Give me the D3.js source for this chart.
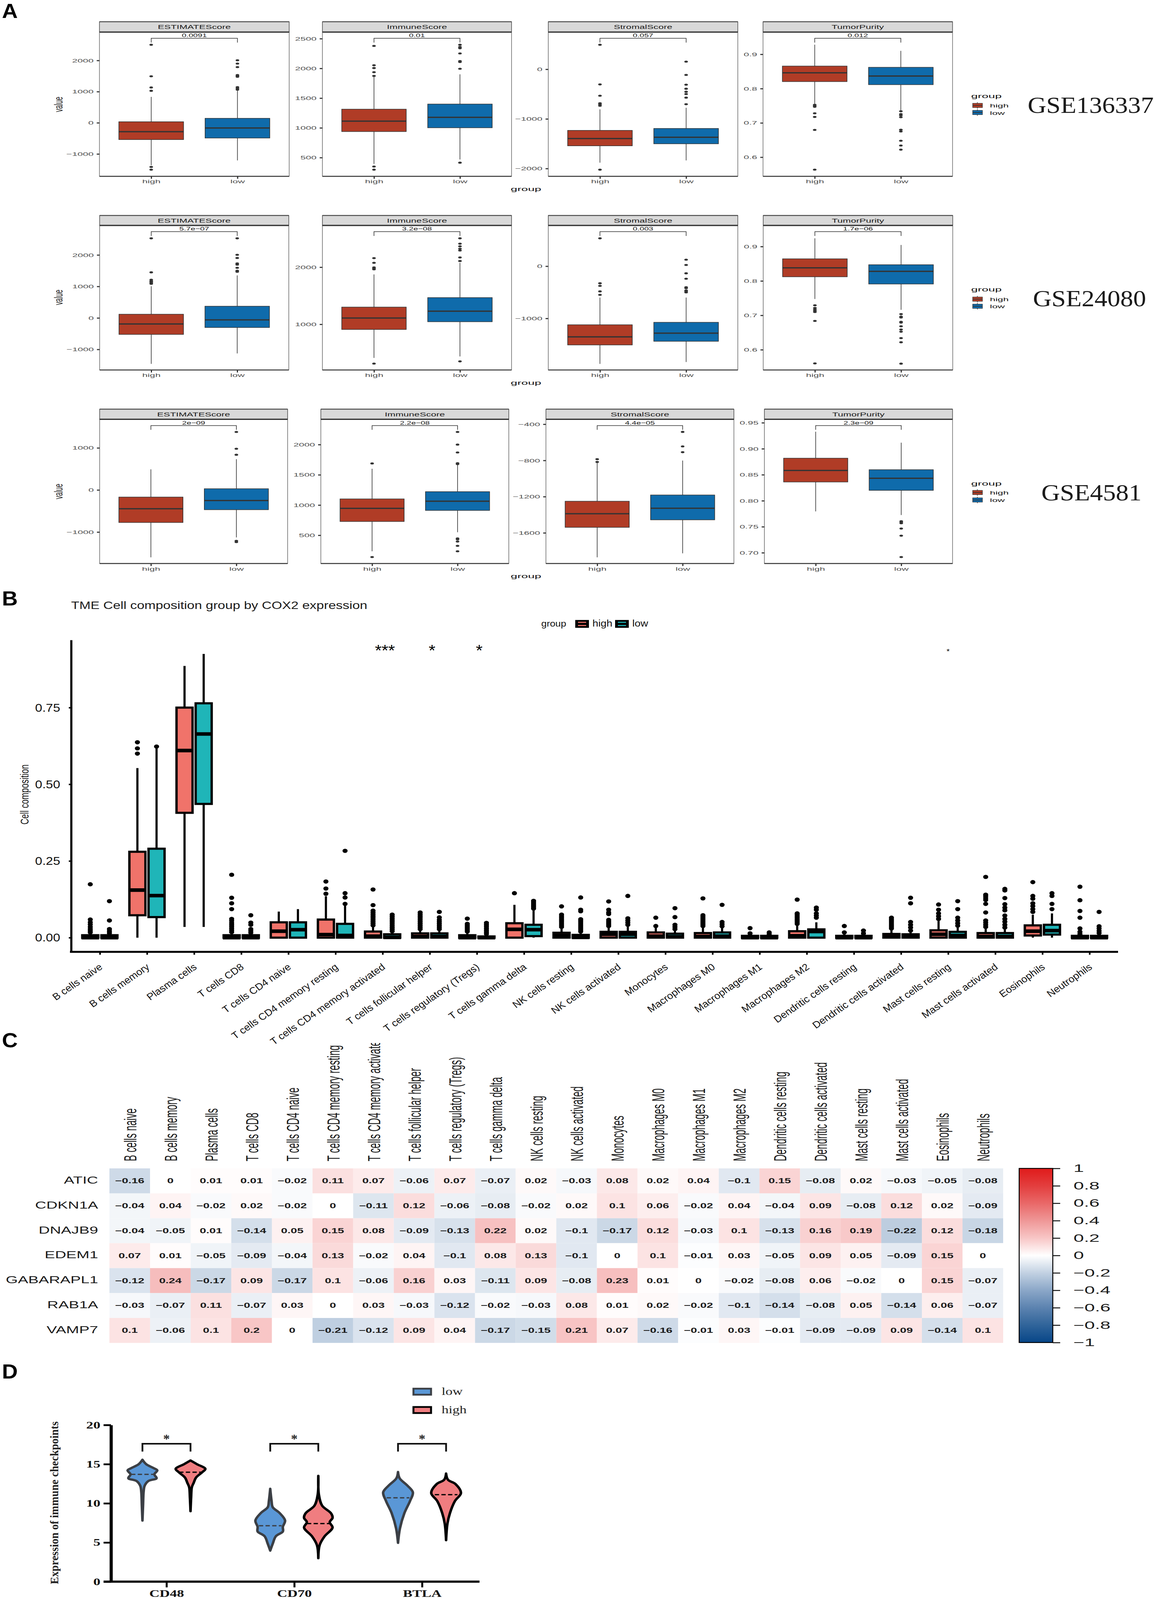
<!DOCTYPE html>
<html>
<head>
<meta charset="utf-8">
<title>COX2 immune figure</title>
<script src="https://cdn.jsdelivr.net/npm/d3@7"></script>
<style>
    html, body { margin: 0; padding: 0; background: #fff; overflow: hidden; }
    svg { display: block; width: 100vw; height: 100vh; font-family: "Liberation Sans", Arial, sans-serif; }
</style>
</head>
<body>
<!-- the browser height is capped at 4096, so the 2953x4493 drawing is fitted to the window -->
<svg id="figure" viewBox="0 0 2953 4493" preserveAspectRatio="none" xmlns="http://www.w3.org/2000/svg"></svg>
<script>
// ---------- Panel A: ESTIMATE boxplots ----------
const groups = ['high', 'low'];
const facets = ['ESTIMATEScore', 'ImmuneScore', 'StromalScore', 'TumorPurity'];
const datasets = ['GSE136337', 'GSE24080', 'GSE4581'];
const pLabels = [
    ['0.0091', '0.01', '0.057', '0.012'],
    ['5.7e\u221207', '3.2e\u221208', '0.003', '1.7e\u221206'],
    ['2e\u221209', '2.2e\u221208', '4.4e\u221205', '2.3e\u221209']
];
const yLimits = [
    [[-1716, 2911], [186, 2611], [-2156, 750], [0.5444, 0.9648]],
    [[-1654, 2938], [200, 2731], [-1988, 781], [0.5411, 0.9614]],
    [[-1749, 1679], [32, 2418], [-1939, -346], [0.6792, 0.9566]]
];
const yTickValues = [
    [[-1000, 0, 1000, 2000], [500, 1000, 1500, 2000, 2500], [-2000, -1000, 0], [0.6, 0.7, 0.8, 0.9]],
    [[-1000, 0, 1000, 2000], [1000, 2000], [-1000, 0], [0.6, 0.7, 0.8, 0.9]],
    [[-1000, 0, 1000], [500, 1000, 1500, 2000], [-1600, -1200, -800, -400], [0.70, 0.75, 0.80, 0.85, 0.90, 0.95]]
];

// every box: [q1, median, q3, whisker low, whisker high, outliers]; per facet [high, low]
const boxesGSE136337 = [
    [[-538, -285, 33, -1362, 832, [2503, 1492, 1133, 1027, -1415, -1504]],
     [-489, -167, 143, -1207, 1084, [2006, 1900, 1786, 1533, 1504, 1476, 1145, 1105, 1064]]],
    [[938, 1113, 1314, 393, 1867, [2378, 2053, 2006, 1936, 1874, 350, 297]],
     [1002, 1177, 1400, 468, 1900, [2397, 2359, 2338, 2252, 2124, 2107, 1994, 415]]],
    [[-1542, -1396, -1232, -1882, -807, [494, -305, -533, -684, -709, -735, -2023]],
     [-1501, -1370, -1193, -1836, -776, [154, -113, -310, -392, -453, -499, -571, -704]]],
    [[0.8204, 0.846, 0.8656, 0.754, 0.928, [0.7526, 0.75, 0.747, 0.728, 0.7174, 0.6796, 0.5637]],
     [0.8115, 0.8367, 0.862, 0.736, 0.91, [0.734, 0.7256, 0.722, 0.7167, 0.68, 0.675, 0.648, 0.634, 0.622]]]
];
const boxesGSE24080 = [
    [[-523, -191, 117, -1459, 1007, [2528, 1448, 1213, 1174, 1147, 1116, 1085]],
     [-304, -62, 371, -1128, 1350, [2528, 2005, 1904, 1732, 1693, 1592, 1498, 1467]]],
    [[910, 1110, 1301, 411, 1873, [2159, 2077, 1996, 1978, 1963, 312]],
     [1045, 1230, 1467, 437, 2075, [2505, 2411, 2366, 2323, 2292, 2170, 2108, 351]]],
    [[-1508, -1353, -1122, -1871, -600, [534, -327, -376, -482, -548]],
     [-1438, -1282, -1075, -1835, -600, [125, 24, -136, -240, -402, -421, -464, -482, -501]]],
    [[0.8121, 0.8382, 0.8643, 0.7475, 0.9239, [0.7293, 0.7214, 0.7171, 0.7132, 0.7096, 0.6839, 0.5604]],
     [0.7911, 0.8279, 0.8471, 0.7161, 0.9046, [0.7036, 0.6964, 0.6939, 0.6811, 0.6789, 0.6682, 0.6589, 0.6525, 0.6339, 0.6218, 0.5596]]]
];
const boxesGSE4581 = [
    [[-773, -446, -169, -1601, 490, []],
     [-469, -251, 29, -1128, 732, [1379, 980, 837, -1210, -1239]]],
    [[728, 945, 1101, 235, 1600, [1688, 140]],
     [911, 1063, 1221, 550, 1671, [2209, 2000, 1870, 1692, 1677, 448, 432, 396, 325, 235]]],
    [[-1539, -1389, -1251, -1870, -824, [-786, -817]],
     [-1456, -1328, -1182, -1826, -801, [-485, -645, -709]]],
    [[0.8361, 0.8583, 0.8818, 0.7795, 0.9328, []],
     [0.82, 0.8432, 0.8597, 0.7724, 0.9116, [0.7606, 0.7587, 0.7568, 0.7465, 0.7328, 0.6917]]]
];

// ---------- Panel B: TME cell composition ----------
const cellTypes = ['B cells naive', 'B cells memory', 'Plasma cells', 'T cells CD8', 'T cells CD4 naive',
    'T cells CD4 memory resting', 'T cells CD4 memory activated', 'T cells follicular helper',
    'T cells regulatory (Tregs)', 'T cells gamma delta', 'NK cells resting', 'NK cells activated', 'Monocytes',
    'Macrophages M0', 'Macrophages M1', 'Macrophages M2', 'Dendritic cells resting', 'Dendritic cells activated',
    'Mast cells resting', 'Mast cells activated', 'Eosinophils', 'Neutrophils'];
const compositionTicks = [0, 0.25, 0.5, 0.75];
const sigCells = ['T cells CD4 memory activated', 'T cells follicular helper', 'T cells regulatory (Tregs)', 'Mast cells resting'];
const sigMarks = ['***', '*', '*', '*'];
const compositionHigh = [
    [0, 0, 0.008, 0, 0.015, [0.174, 0.059, 0.05, 0.043, 0.035, 0.028, 0.022, 0.017]],
    [0.073, 0.155, 0.28, 0, 0.553, [0.637, 0.617, 0.6]],
    [0.407, 0.61, 0.75, 0.035, 0.886, []],
    [0, 0, 0.008, 0, 0.015, [0.205, 0.13, 0.112, 0.093, 0.061, 0.055, 0.048, 0.042, 0.036, 0.03, 0.024, 0.018]],
    [0, 0.021, 0.05, 0, 0.085, []],
    [0, 0.01, 0.059, 0, 0.135, [0.183, 0.16, 0.143]],
    [0, 0.005, 0.02, 0, 0.038, [0.157, 0.106, 0.088, 0.082, 0.076, 0.07, 0.064, 0.058, 0.052, 0.046, 0.04]],
    [0, 0.004, 0.014, 0, 0.026, [0.082, 0.076, 0.07, 0.064, 0.058, 0.052, 0.046, 0.04, 0.034, 0.028]],
    [0, 0, 0.008, 0, 0.016, [0.062, 0.045, 0.04, 0.035, 0.03, 0.025, 0.02]],
    [0, 0.027, 0.047, 0, 0.107, [0.145]],
    [0, 0.007, 0.016, 0, 0.03, [0.102, 0.075, 0.07, 0.065, 0.06, 0.055, 0.05, 0.045, 0.04, 0.035]],
    [0, 0.011, 0.019, 0, 0.036, [0.118, 0.091, 0.082, 0.077, 0.058, 0.053, 0.048, 0.043, 0.038]],
    [0, 0.005, 0.017, 0, 0.035, [0.065, 0.038]],
    [0, 0.004, 0.015, 0, 0.034, [0.128, 0.073, 0.068, 0.063, 0.058, 0.053, 0.048, 0.043, 0.038]],
    [0, 0, 0.006, 0, 0.012, [0.031, 0.014]],
    [0, 0.006, 0.021, 0, 0.04, [0.124, 0.079, 0.075, 0.07, 0.065, 0.06, 0.055, 0.05, 0.045]],
    [0, 0, 0.006, 0, 0.012, [0.038, 0.017]],
    [0, 0.003, 0.012, 0, 0.026, [0.065, 0.06, 0.055, 0.05, 0.045, 0.04, 0.035, 0.03]],
    [0, 0.011, 0.024, 0, 0.055, [0.108, 0.091, 0.079, 0.07, 0.061]],
    [0, 0.004, 0.015, 0, 0.03, [0.198, 0.14, 0.135, 0.129, 0.123, 0.11, 0.082, 0.056, 0.049, 0.042, 0.035]],
    [0.007, 0.021, 0.04, 0, 0.075, [0.181, 0.136, 0.127, 0.112, 0.103, 0.093, 0.084]],
    [0, 0, 0.006, 0, 0.012, [0.166, 0.122, 0.087, 0.065, 0.03, 0.019, 0.012]]
];
const compositionLow = [
    [0, 0, 0.008, 0, 0.014, [0.119, 0.056, 0.028, 0.021, 0.015]],
    [0.067, 0.137, 0.29, 0, 0.62, [0.623]],
    [0.436, 0.664, 0.764, 0.035, 0.925, []],
    [0, 0, 0.008, 0, 0.014, [0.073, 0.049, 0.042, 0.028, 0.022, 0.016]],
    [0, 0.026, 0.05, 0, 0.093, []],
    [0, 0.007, 0.045, 0, 0.108, [0.283, 0.145, 0.131, 0.11]],
    [0, 0.001, 0.011, 0, 0.02, [0.075, 0.069, 0.063, 0.057, 0.051, 0.045, 0.039, 0.033, 0.027, 0.021]],
    [0, 0.004, 0.014, 0, 0.026, [0.084, 0.066, 0.058, 0.052, 0.046, 0.04, 0.034, 0.028]],
    [0, 0, 0.004, 0, 0.01, [0.048, 0.042, 0.036, 0.03, 0.024, 0.018, 0.012]],
    [0.005, 0.026, 0.042, 0, 0.09, [0.12, 0.115, 0.11, 0.105, 0.1, 0.095]],
    [0, 0.001, 0.009, 0, 0.02, [0.131, 0.091, 0.086, 0.06, 0.055, 0.05, 0.045, 0.04, 0.035, 0.03, 0.025, 0.02]],
    [0, 0.011, 0.019, 0, 0.036, [0.136, 0.063, 0.056, 0.049, 0.042]],
    [0, 0.003, 0.013, 0, 0.026, [0.096, 0.067, 0.042, 0.035, 0.028]],
    [0, 0.005, 0.017, 0, 0.034, [0.107, 0.051, 0.044, 0.037]],
    [0, 0, 0.006, 0, 0.012, [0.017, 0.012]],
    [0, 0.02, 0.027, 0, 0.05, [0.098, 0.091, 0.079, 0.072, 0.065]],
    [0, 0, 0.006, 0, 0.012, [0.023, 0.014]],
    [0, 0.003, 0.011, 0, 0.02, [0.13, 0.112, 0.051, 0.042, 0.033, 0.023]],
    [0, 0.007, 0.019, 0, 0.036, [0.119, 0.093, 0.065, 0.056, 0.047, 0.039]],
    [0, 0.004, 0.015, 0, 0.03, [0.159, 0.154, 0.129, 0.109, 0.098, 0.089, 0.072, 0.061, 0.052, 0.042, 0.033]],
    [0.01, 0.023, 0.042, 0, 0.079, [0.145, 0.136, 0.11, 0.093]],
    [0, 0, 0.006, 0, 0.012, [0.084, 0.037, 0.03, 0.022, 0.015]]
];

// ---------- Panel C: correlation heatmap ----------
const genes = ['ATIC', 'CDKN1A', 'DNAJB9', 'EDEM1', 'GABARAPL1', 'RAB1A', 'VAMP7'];
const corrATIC = [-0.16, 0, 0.01, 0.01, -0.02, 0.11, 0.07, -0.06, 0.07, -0.07, 0.02, -0.03, 0.08, 0.02, 0.04, -0.1, 0.15, -0.08, 0.02, -0.03, -0.05, -0.08];
const corrCDKN1A = [-0.04, 0.04, -0.02, 0.02, -0.02, 0, -0.11, 0.12, -0.06, -0.08, -0.02, 0.02, 0.1, 0.06, -0.02, 0.04, -0.04, 0.09, -0.08, 0.12, 0.02, -0.09];
const corrDNAJB9 = [-0.04, -0.05, 0.01, -0.14, 0.05, 0.15, 0.08, -0.09, -0.13, 0.22, 0.02, -0.1, -0.17, 0.12, -0.03, 0.1, -0.13, 0.16, 0.19, -0.22, 0.12, -0.18];
const corrEDEM1 = [0.07, 0.01, -0.05, -0.09, -0.04, 0.13, -0.02, 0.04, -0.1, 0.08, 0.13, -0.1, 0, 0.1, -0.01, 0.03, -0.05, 0.09, 0.05, -0.09, 0.15, 0];
const corrGABARAPL1 = [-0.12, 0.24, -0.17, 0.09, -0.17, 0.1, -0.06, 0.16, 0.03, -0.11, 0.09, -0.08, 0.23, 0.01, 0, -0.02, -0.08, 0.06, -0.02, 0, 0.15, -0.07];
const corrRAB1A = [-0.03, -0.07, 0.11, -0.07, 0.03, 0, 0.03, -0.03, -0.12, -0.02, -0.03, 0.08, 0.01, 0.02, -0.02, -0.1, -0.14, -0.08, 0.05, -0.14, 0.06, -0.07];
const corrVAMP7 = [0.1, -0.06, 0.1, 0.2, 0, -0.21, -0.12, 0.09, 0.04, -0.17, -0.15, 0.21, 0.07, -0.16, -0.01, 0.03, -0.01, -0.09, -0.09, 0.09, -0.14, 0.1];
const colorbarTicks = [-1, -0.8, -0.6, -0.4, -0.2, 0, 0.2, 0.4, 0.6, 0.8, 1];

// ---------- Panel D: violins, each point is [value, relative density] ----------
const checkpoints = ['CD48', 'CD70', 'BTLA'];
const violinGroups = ['low', 'high'];
const expressionTicks = [0, 5, 10, 15, 20];
const violinCD48Low = [[15.57, 0], [15, 0.25], [14.5, 0.75], [14.2, 1], [13.7, 0.8], [13.2, 0.95], [12.85, 0.4], [12.25, 0.15], [11.5, 0.08], [9.7, 0.04], [7.8, 0]];
const violinCD48High = [[15.47, 0], [15, 0.43], [14.4, 1], [14, 0.81], [13.3, 0.38], [12.6, 0.21], [12.05, 0.09], [10.7, 0.04], [9, 0]];
const violinCD70Low = [[11.86, 0], [10.3, 0.09], [9.5, 0.17], [8.75, 0.64], [7.8, 1], [7, 0.85], [6.4, 0.85], [5.8, 0.38], [4.85, 0.17], [3.96, 0]];
const violinCD70High = [[13.5, 0], [11.1, 0.04], [9.7, 0.26], [8.75, 0.85], [8.15, 0.96], [7.6, 0.77], [6.9, 0.96], [5.8, 0.43], [4.65, 0.09], [3, 0]];
const violinBTLALow = [[14, 0], [13.2, 0.11], [12.25, 0.64], [11.4, 1], [10.3, 0.81], [8.75, 0.43], [6.8, 0.13], [4.95, 0]];
const violinBTLAHigh = [[13.8, 0], [13, 0.13], [12.45, 0.64], [11.3, 1], [10.3, 0.6], [8.75, 0.26], [7.4, 0.09], [5.3, 0]];
const medianLow = [13.7, 7.14, 10.7];
const medianHigh = [13.97, 7.41, 11.1];
const bracketLevel = [16.6, 17.6];

const svg = d3.select('#figure');

/**
 * Adds a text, optionally stretched: the source image is not proportional.
 */
function addText(parent, x, y, str, opt = {}) {
    const rot = opt.rotate ? ` rotate(${opt.rotate})` : '';
    return parent.append('text')
        .attr('transform', `translate(${x},${y})${rot} scale(${opt.sx || 1},${opt.sy || 1})`)
        .attr('text-anchor', opt.anchor || 'middle')
        .attr('font-size', opt.size || 16)
        .attr('font-weight', opt.weight || 'normal')
        .attr('font-family', opt.family || null)
        .attr('fill', opt.fill || '#000')
        .text(str);
}

// panel letters
[['A', 5, 50], ['B', 5, 1700], ['C', 5, 2941], ['D', 5, 3871]].forEach(d => {
    addText(svg, d[1], d[2], d[0], { anchor: 'start', size: 56, weight: 'bold' });
});

/**
 * Panel A: one row of four facets with its legend and dataset name.
 */
function drawBoxRow(rowIndex, boxes, layout) {
    const row = svg.append('g');
    const groupColor = d3.scaleOrdinal().domain(groups).range(['#b03c26', '#0f6bab']);
    const dark = '#333';

    facets.forEach((facet, f) => {
        const [left, right] = layout.panels[f];
        const g = row.append('g');
        const x = d3.scalePoint().domain(groups).range([left, right]).padding(0.6);
        const y = d3.scaleLinear().domain(yLimits[rowIndex][f]).range([layout.plotBottom, layout.plotTop]);
        const mid = (left + right) / 2;
        const boxWidth = x.step() * 0.75;

        // strip
        g.append('rect').attr('x', left).attr('y', layout.stripTop)
            .attr('width', right - left).attr('height', layout.plotTop - layout.stripTop)
            .attr('fill', '#d9d9d9').attr('stroke', '#444').attr('stroke-width', 1.5);
        addText(g, mid, (layout.stripTop + layout.plotTop) / 2 + 6, facet, { size: 16, sx: 1.55, fill: '#1a1a1a' });

        // frame
        g.append('rect').attr('x', left).attr('y', layout.plotTop)
            .attr('width', right - left).attr('height', layout.plotBottom - layout.plotTop)
            .attr('fill', '#fff').attr('stroke', '#666').attr('stroke-width', 1.5);
        g.append('line').attr('x1', left).attr('x2', right).attr('y1', layout.plotTop).attr('y2', layout.plotTop)
            .attr('stroke', '#333').attr('stroke-width', 3.5);
        g.append('line').attr('x1', left).attr('x2', right).attr('y1', layout.plotBottom).attr('y2', layout.plotBottom)
            .attr('stroke', '#444').attr('stroke-width', 3);
        g.append('line').attr('x1', left).attr('x2', right).attr('y1', layout.stripTop).attr('y2', layout.stripTop)
            .attr('stroke', '#444').attr('stroke-width', 2.5);

        // axes
        const tickFmt = rowIndex === 2 && f === 3 ? d3.format('.2f') : (f === 3 ? d3.format('.1f') : d3.format('d'));
        const yAxis = g.append('g').attr('transform', `translate(${left},0)`)
            .call(d3.axisLeft(y).tickValues(yTickValues[rowIndex][f]).tickFormat(tickFmt).tickSize(7).tickPadding(2));
        const xAxis = g.append('g').attr('transform', `translate(0,${layout.plotBottom})`)
            .call(d3.axisBottom(x).tickSize(7).tickPadding(2));
        [yAxis, xAxis].forEach(a => {
            a.select('.domain').remove();
            a.selectAll('.tick line').attr('stroke', '#333').attr('stroke-width', 3);
            a.selectAll('.tick text').attr('font-size', 15).attr('fill', '#4d4d4d')
                .attr('font-family', '"Liberation Sans", Arial, sans-serif')
                .attr('transform', 'scale(1.65,1)');
        });
        yAxis.selectAll('.tick text').attr('x', -15 / 1.65);

        // boxes
        groups.forEach((grp, k) => {
            const [q1, med, q3, lo, hi, outliers] = boxes[f][k];
            const cx = x(grp);
            g.append('line').attr('x1', cx).attr('x2', cx).attr('y1', y(lo)).attr('y2', y(hi))
                .attr('stroke', dark).attr('stroke-width', 1.6);
            g.append('rect').attr('x', cx - boxWidth / 2).attr('y', y(q3))
                .attr('width', boxWidth).attr('height', y(q1) - y(q3))
                .attr('fill', groupColor(grp)).attr('stroke', dark).attr('stroke-width', 1.6);
            g.append('line').attr('x1', cx - boxWidth / 2).attr('x2', cx + boxWidth / 2)
                .attr('y1', y(med)).attr('y2', y(med)).attr('stroke', dark).attr('stroke-width', 3.6);
            g.selectAll(null).data(outliers).enter().append('ellipse')
                .attr('cx', cx).attr('cy', d => y(d)).attr('rx', 4.6).attr('ry', 2.8).attr('fill', dark);
        });

        // p value bracket
        const by = layout.plotTop + 17.5;
        g.append('path')
            .attr('d', `M${x('high')},${by + 12}V${by}H${x('low')}V${by + 12}`)
            .attr('fill', 'none').attr('stroke', '#333').attr('stroke-width', 1.6);
        addText(g, (x('high') + x('low')) / 2, by - 3, pLabels[rowIndex][f], { size: 14, sx: 1.5, fill: '#1a1a1a' });
    });

    // shared titles
    addText(row, 160, layout.valueY, 'value', { rotate: -90, size: 18, sy: 1.65, fill: '#222' });
    addText(row, 1346, layout.groupY, 'group', { size: 17, sx: 1.8, fill: '#111' });

    // legend
    addText(row, 2485, layout.legendTitle, 'group', { anchor: 'start', size: 17, sx: 1.8, fill: '#111' });
    groups.forEach((grp, k) => {
        const cy = layout.legendKeys[k];
        row.append('line').attr('x1', 2501).attr('x2', 2501).attr('y1', cy - 9).attr('y2', cy + 9)
            .attr('stroke', dark).attr('stroke-width', 1.5);
        row.append('rect').attr('x', 2489).attr('y', cy - 6).attr('width', 25).attr('height', 12)
            .attr('fill', groupColor(grp)).attr('stroke', dark).attr('stroke-width', 1.2);
        row.append('line').attr('x1', 2489).attr('x2', 2514).attr('y1', cy).attr('y2', cy)
            .attr('stroke', dark).attr('stroke-width', 2);
        addText(row, 2533, cy + 6, grp, { anchor: 'start', size: 15, sx: 1.7, fill: '#111' });
    });

    // dataset name
    addText(row, layout.nameX, layout.nameY, datasets[rowIndex], {
        size: 66, family: '"Liberation Serif", serif', fill: '#1a1a1a'
    });
}

drawBoxRow(0, boxesGSE136337, {
    stripTop: 61, plotTop: 90, plotBottom: 495,
    panels: [[254.5, 740], [825, 1309], [1403, 1888], [1952.5, 2437.5]],
    valueY: 293, groupY: 536, legendTitle: 275, legendKeys: [296, 316], nameX: 2791, nameY: 317
});
drawBoxRow(1, boxesGSE24080, {
    stripTop: 605, plotTop: 633, plotBottom: 1039,
    panels: [[255, 739], [825, 1309], [1403, 1888], [1953, 2438]],
    valueY: 835, groupY: 1080, legendTitle: 818, legendKeys: [840, 860], nameX: 2788, nameY: 860
});
drawBoxRow(2, boxesGSE4581, {
    stripTop: 1149, plotTop: 1177.5, plotBottom: 1582.5,
    panels: [[255, 736], [821, 1302], [1397, 1878], [1956, 2437.5]],
    valueY: 1380, groupY: 1623, legendTitle: 1363, legendKeys: [1383, 1404], nameX: 2793, nameY: 1405
});

/**
 * Panel B: dodged boxplots with very heavy outlines.
 */
function drawComposition() {
    const g = svg.append('g');
    const x = d3.scalePoint().domain(cellTypes).range([255.5, 2788]);
    const dodge = d3.scaleBand().domain(groups).range([-49, 49]);
    const y = d3.scaleLinear().domain([-0.0464, 0.9706]).range([2673, 1797]);
    const fills = d3.scaleOrdinal().domain(groups).range(['#f0736a', '#1fb5b8']);
    const series = { high: compositionHigh, low: compositionLow };
    const boxWidth = 41;

    const title = addText(g, 182, 1710, 'TME Cell composition group by COX2 expression', { anchor: 'start', size: 30, fill: '#1a1a1a' });
    title.attr('textLength', 758).attr('lengthAdjust', 'spacingAndGlyphs');

    // axes
    const yAxis = g.append('g').attr('transform', 'translate(182,0)')
        .call(d3.axisLeft(y).tickValues(compositionTicks).tickFormat(d3.format('.2f')).tickSize(6).tickPadding(22).tickSizeOuter(0));
    yAxis.select('.domain').attr('stroke', '#000').attr('stroke-width', 5.5);
    yAxis.selectAll('.tick line').attr('stroke', '#000').attr('stroke-width', 4);
    yAxis.selectAll('.tick text').attr('font-size', 33).attr('fill', '#111')
        .attr('font-family', '"Liberation Sans", Arial, sans-serif');

    const xAxis = g.append('g').attr('transform', 'translate(0,2673)')
        .call(d3.axisBottom(x).tickSize(8).tickSizeOuter(0));
    xAxis.select('.domain').remove();
    g.append('line').attr('x1', 179).attr('x2', 2861).attr('y1', 2673).attr('y2', 2673)
        .attr('stroke', '#000').attr('stroke-width', 5.5);
    xAxis.selectAll('.tick line').attr('stroke', '#000').attr('stroke-width', 4);
    xAxis.selectAll('.tick text').attr('font-size', 27).attr('fill', '#111')
        .attr('font-family', '"Liberation Sans", Arial, sans-serif')
        .attr('text-anchor', 'end').attr('x', 0).attr('y', 0).attr('dy', 0)
        .attr('transform', 'translate(8,46) rotate(-37)');

    addText(g, 73, 2231, 'Cell composition', { rotate: -90, size: 23, sy: 1.25, fill: '#111' });

    // boxes
    cellTypes.forEach((cell, i) => {
        groups.forEach(grp => {
            const [q1, med, q3, lo, hi, outliers] = series[grp][i];
            const cx = x(cell) + dodge(grp) + dodge.bandwidth() / 2;
            g.append('line').attr('x1', cx).attr('x2', cx).attr('y1', y(lo)).attr('y2', y(hi))
                .attr('stroke', '#000').attr('stroke-width', 5.5);
            g.append('rect').attr('x', cx - boxWidth / 2).attr('y', y(q3))
                .attr('width', boxWidth).attr('height', y(q1) - y(q3))
                .attr('fill', fills(grp)).attr('stroke', '#000').attr('stroke-width', 6);
            g.append('line').attr('x1', cx - boxWidth / 2 - 2).attr('x2', cx + boxWidth / 2 + 2)
                .attr('y1', y(med)).attr('y2', y(med)).attr('stroke', '#000').attr('stroke-width', 10);
            g.selectAll(null).data(outliers).enter().append('ellipse')
                .attr('cx', cx).attr('cy', d => y(d)).attr('rx', 6.5).attr('ry', 6).attr('fill', '#000');
        });
    });

    // significance marks
    sigCells.forEach((cell, i) => {
        const small = i === 3;
        addText(g, x(cell) + (small ? 0 : 6), small ? 1836 : 1842, sigMarks[i], { size: small ? 20 : 44 });
    });

    // legend
    addText(g, 1385, 1760, 'group', { anchor: 'start', size: 25, fill: '#111' });
    [[1472, 1516, 'high'], [1574, 1618, 'low']].forEach(d => {
        g.append('rect').attr('x', d[0]).attr('y', 1741).attr('width', 35).attr('height', 22).attr('fill', '#000');
        g.append('rect').attr('x', d[0] + 7).attr('y', 1746).attr('width', 21).attr('height', 3).attr('fill', fills(d[2]));
        g.append('rect').attr('x', d[0] + 7).attr('y', 1755).attr('width', 21).attr('height', 3).attr('fill', fills(d[2]));
        addText(g, d[1], 1759, d[2], { anchor: 'start', size: 27, fill: '#111' });
    });
}
drawComposition();

/**
 * Panel C: gene / immune cell correlation heatmap with its colour bar.
 */
function drawHeatmap() {
    const g = svg.append('g');
    const matrix = [corrATIC, corrCDKN1A, corrDNAJB9, corrEDEM1, corrGABARAPL1, corrRAB1A, corrVAMP7];
    const x = d3.scaleBand().domain(cellTypes).range([280, 2567]);
    const y = d3.scaleBand().domain(genes).range([3281, 3771]);
    const color = d3.scaleLinear()
        .domain(colorbarTicks)
        .range(['#074688', '#30649a', '#5c83b0', '#8ba7c8', '#c2d1e2', '#ffffff', '#f8c6c6', '#ef9797', '#e96868', '#e33e3e', '#e01b1b']);

    g.selectAll('g.row').data(matrix).enter().append('g').attr('class', 'row')
        .each(function (values, r) {
            const rowG = d3.select(this);
            values.forEach((v, c) => {
                const cx = x(cellTypes[c]);
                const cy = y(genes[r]);
                rowG.append('rect').attr('x', cx).attr('y', cy)
                    .attr('width', x.bandwidth()).attr('height', y.bandwidth()).attr('fill', color(v));
                addText(rowG, cx + x.bandwidth() / 2, cy + y.bandwidth() / 2 + 7, String(v).replace('-', '\u2212'),
                    { size: 20, sx: 1.48, weight: 'bold', fill: '#1a1a1a' });
            });
        });

    // column labels are cut off at the top in the source
    svg.append('defs').append('clipPath').attr('id', 'colClip')
        .append('rect').attr('x', 280).attr('y', 2929).attr('width', 2287).attr('height', 340);
    const colAxis = g.append('g').attr('clip-path', 'url(#colClip)').append('g')
        .attr('transform', 'translate(0,3261)')
        .call(d3.axisTop(x).tickSize(0));
    colAxis.select('.domain').remove();
    colAxis.selectAll('.tick text').attr('font-size', 26.5).attr('fill', '#1a1a1a')
        .attr('font-family', '"Liberation Sans", Arial, sans-serif')
        .attr('text-anchor', 'start').attr('x', 0).attr('y', 0).attr('dy', 0)
        .attr('transform', 'translate(17,0) rotate(-90) scale(1,1.7)');

    const rowAxis = g.append('g').attr('transform', 'translate(251,0)')
        .call(d3.axisLeft(y).tickSize(0).tickPadding(0));
    rowAxis.select('.domain').remove();
    rowAxis.selectAll('.tick text').attr('font-size', 29).attr('fill', '#1a1a1a')
        .attr('font-family', '"Liberation Sans", Arial, sans-serif')
        .attr('x', 0).attr('dy', '0.26em').attr('transform', 'scale(1.37,1)');

    // colour bar
    const barY = d3.scaleLinear().domain([-1, 1]).range([3770, 3281]);
    const grad = svg.select('defs').append('linearGradient').attr('id', 'corrGrad')
        .attr('x1', 0).attr('x2', 0).attr('y1', 1).attr('y2', 0);
    colorbarTicks.forEach(t => {
        grad.append('stop').attr('offset', (t + 1) / 2).attr('stop-color', color(t));
    });
    g.append('rect').attr('x', 2608).attr('y', 3281).attr('width', 86).attr('height', 489)
        .attr('fill', 'url(#corrGrad)').attr('stroke', '#000').attr('stroke-width', 2.5);
    const barAxis = g.append('g').attr('transform', 'translate(2694,0)')
        .call(d3.axisRight(barY).tickValues(colorbarTicks).tickFormat(d => String(d).replace('-', '\u2212')).tickSize(19).tickSizeOuter(0));
    barAxis.select('.domain').remove();
    barAxis.selectAll('.tick line').attr('stroke', '#000').attr('stroke-width', 2.5);
    barAxis.selectAll('.tick text').attr('font-size', 30).attr('fill', '#1a1a1a')
        .attr('font-family', '"Liberation Sans", Arial, sans-serif')
        .attr('x', 53 / 1.6).attr('transform', 'scale(1.6,1)');
}
drawHeatmap();

/**
 * Panel D: split violins for the three immune checkpoints.
 */
function drawViolins() {
    const g = svg.append('g').attr('font-family', '"Liberation Serif", serif');
    const serif = '"Liberation Serif", serif';
    const x = d3.scalePoint().domain(checkpoints).range([426, 1080]);
    const y = d3.scaleLinear().domain([0, 20]).range([4441.5, 4001.5]);
    const w = d3.scaleLinear().domain([0, 1]).range([0, 38]);
    const offset = d3.scalePoint().domain(violinGroups).range([-61.5, 61.5]);
    const fills = { low: '#5a97d6', high: '#f07d80' };
    const strokes = { low: '#3b3f45', high: '#000' };
    const profiles = {
        low: [violinCD48Low, violinCD70Low, violinBTLALow],
        high: [violinCD48High, violinCD70High, violinBTLAHigh]
    };
    const medians = { low: medianLow, high: medianHigh };

    const yAxis = g.append('g').attr('transform', 'translate(284,0)')
        .call(d3.axisLeft(y).tickValues(expressionTicks).tickSize(19).tickPadding(8).tickSizeOuter(0));
    yAxis.select('.domain').attr('stroke', '#000').attr('stroke-width', 8);
    yAxis.selectAll('.tick line').attr('stroke', '#000').attr('stroke-width', 5);
    yAxis.selectAll('.tick text').attr('font-size', 28).attr('font-weight', 'bold').attr('fill', '#111')
        .attr('font-family', serif).attr('x', -27 / 1.3).attr('transform', 'scale(1.3,1)');

    const xAxis = g.append('g').attr('transform', 'translate(0,4441.5)')
        .call(d3.axisBottom(x).tickSize(16).tickPadding(7).tickSizeOuter(0));
    xAxis.select('.domain').remove();
    g.append('line').attr('x1', 265).attr('x2', 1227).attr('y1', 4441.5).attr('y2', 4441.5)
        .attr('stroke', '#000').attr('stroke-width', 6);
    xAxis.selectAll('.tick line').attr('stroke', '#000').attr('stroke-width', 5);
    xAxis.selectAll('.tick text').attr('font-size', 28).attr('font-weight', 'bold').attr('fill', '#111')
        .attr('font-family', serif).attr('transform', 'scale(1.3,1)');

    const yTitle = addText(g, 149, 4220, 'Expression of immune checkpoints',
        { rotate: -90, size: 29, weight: 'bold', family: serif, fill: '#222' });
    yTitle.attr('textLength', 457).attr('lengthAdjust', 'spacingAndGlyphs');

    checkpoints.forEach((name, i) => {
        violinGroups.forEach(grp => {
            const cx = x(name) + offset(grp);
            const area = d3.area()
                .y(d => y(d[0]))
                .x0(d => cx - w(d[1]))
                .x1(d => cx + w(d[1]))
                .curve(d3.curveCatmullRom);
            g.append('path').datum(profiles[grp][i]).attr('d', area)
                .attr('fill', fills[grp]).attr('stroke', strokes[grp])
                .attr('stroke-width', 6.5).attr('stroke-linejoin', 'round');
            g.append('line').attr('x1', cx - 29).attr('x2', cx + 29)
                .attr('y1', y(medians[grp][i])).attr('y2', y(medians[grp][i]))
                .attr('stroke', strokes[grp]).attr('stroke-width', 3.5).attr('stroke-dasharray', '11 6');
        });
        const a = x(name) + offset('low');
        const b = x(name) + offset('high');
        g.append('path')
            .attr('d', `M${a},${y(bracketLevel[0])}V${y(bracketLevel[1])}H${b}V${y(bracketLevel[0])}`)
            .attr('fill', 'none').attr('stroke', '#111').attr('stroke-width', 4.5);
        addText(g, x(name), 4052, '*', { size: 34, weight: 'bold', family: serif, fill: '#222' });
    });

    // legend
    [['low', 3908], ['high', 3959.5]].forEach(d => {
        g.append('rect').attr('x', 1058).attr('y', d[1] - 8.5).attr('width', 45).attr('height', 17)
            .attr('fill', fills[d[0]]).attr('stroke', strokes[d[0]]).attr('stroke-width', 5);
        addText(g, 1130, d[1] + 9, d[0], { anchor: 'start', size: 30, sx: 1.2, family: serif, fill: '#222' });
    });
}
drawViolins();
</script>
</body>
</html>
